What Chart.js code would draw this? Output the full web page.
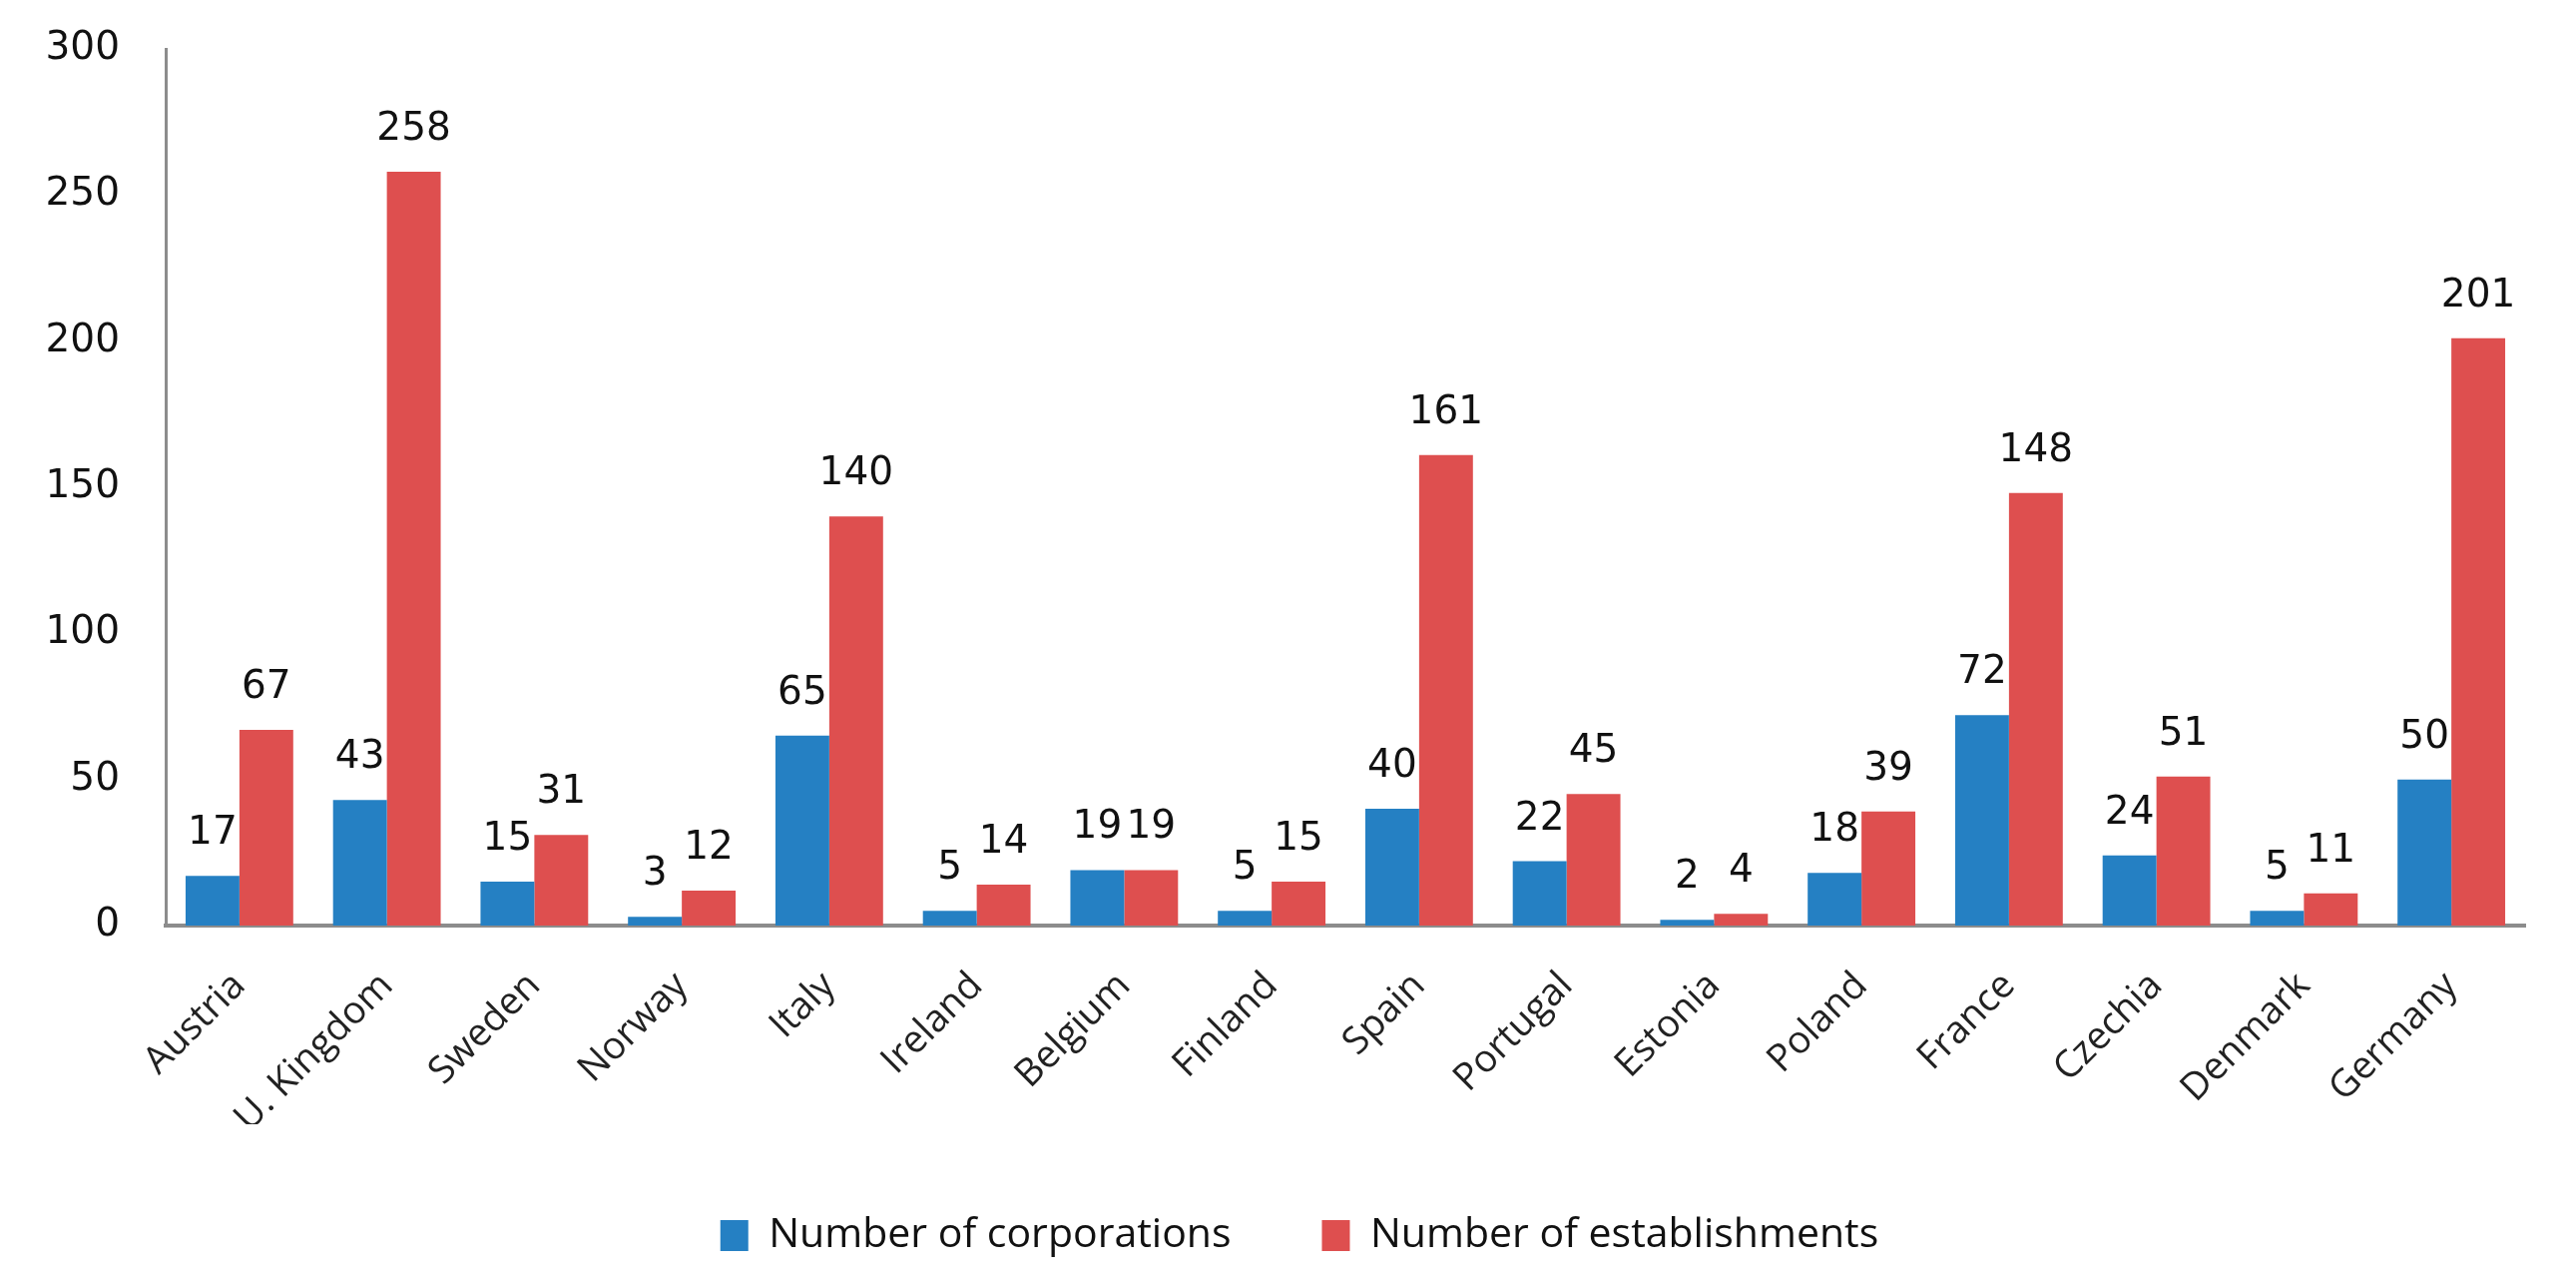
<!DOCTYPE html>
<html>
<head>
<meta charset="utf-8">
<script src="https://cdn.jsdelivr.net/npm/chart.js@4.4.1/dist/chart.umd.min.js"></script>
<style>
  html, body { margin:0; padding:0; background:#fff; }
  #wrap { width:2581px; height:1288px; }
</style>
</head>
<body>
<div id="wrap"><canvas id="c" width="2581" height="1288"></canvas></div>
<script>
// categories + series
const countries = ['Austria','U. Kingdom','Sweden','Norway','Italy','Ireland','Belgium','Finland',
                   'Spain','Portugal','Estonia','Poland','France','Czechia','Denmark','Germany'];
const corporations   = [17, 43, 15, 3, 65, 5, 19, 5, 40, 22, 2, 18, 72, 24, 5, 50];
const establishments = [67, 258, 31, 12, 140, 14, 19, 15, 161, 45, 4, 39, 148, 51, 11, 201];
const yTicks = [0, 50, 100, 150, 200, 250, 300];

const colors = { corp:'#2580C3', est:'#DE4F4F', axis:'#8c8c8c', text:'#111' };

// value labels above each bar
const barLabels = {
  id:'barLabels',
  afterDatasetsDraw(chart){
    const ctx = chart.ctx;
    ctx.save();
    ctx.font = '39px "DejaVu Sans"';
    ctx.fillStyle = colors.text;
    ctx.textAlign = 'center';
    ctx.textBaseline = 'alphabetic';
    chart.data.datasets.forEach((ds, di) => {
      chart.getDatasetMeta(di).data.forEach((bar, i) => {
        ctx.fillText(String(ds.data[i]), bar.x, bar.y - 32);
      });
    });
    ctx.restore();
  }
};

// nudge the legend so it sits centred like the original
const legendShift = {
  id:'legendShift',
  afterLayout(chart){ chart.legend.left += 37; chart.legend.right += 37; }
};

new Chart(document.getElementById('c'), {
  type:'bar',
  data:{
    labels: countries,
    datasets:[
      {label:'Number of corporations',   data:corporations,   backgroundColor:colors.corp},
      {label:'Number of establishments', data:establishments, backgroundColor:colors.est}
    ]
  },
  options:{
    responsive:false, animation:false,
    layout:{ padding:{ top:49, right:51, bottom:20, left:0 } },
    datasets:{ bar:{ categoryPercentage:0.73, barPercentage:1.0 } },
    scales:{
      x:{
        grid:{ display:false },
        border:{ display:true, color:colors.axis, width:4 },
        ticks:{ maxRotation:45, minRotation:45, padding:30, color:'#222',
                font:{ family:'"Open Sans"', size:38 } },
        afterFit(s){ s.height = 199; }
      },
      y:{
        min:0, max:300,
        grid:{ display:false },
        border:{ display:true, color:colors.axis, width:3 },
        afterBuildTicks(s){ s.ticks = yTicks.map(v => ({value:v})); },
        ticks:{ padding:38, color:colors.text, font:{ family:'"DejaVu Sans"', size:39 } },
        afterFit(s){ s.width = 166; s.paddingTop = 0; s.paddingBottom = 0; }
      }
    },
    plugins:{
      legend:{
        position:'bottom',
        labels:{ boxWidth:28, boxHeight:31, padding:91, color:'#111',
                 font:{ family:'"Open Sans"', size:41 } }
      },
      tooltip:{ enabled:false }
    }
  },
  plugins:[barLabels, legendShift]
});
</script>
</body>
</html>
